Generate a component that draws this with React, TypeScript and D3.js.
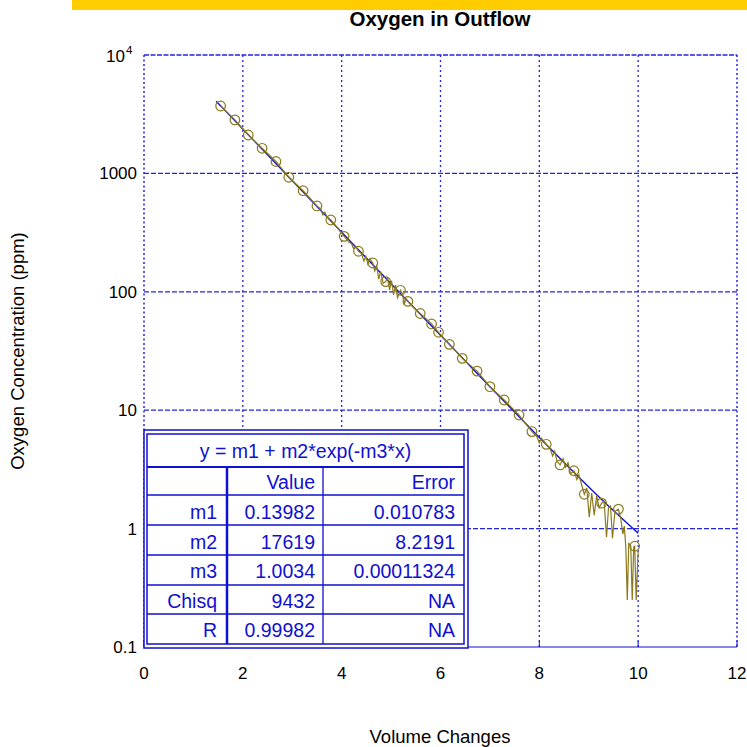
import React from 'react';
import * as d3 from "d3";

// measured points (circles)
const circleX = [1.55, 1.84, 2.11, 2.39, 2.67, 2.93, 3.22, 3.5, 3.78, 4.05, 4.34, 4.63, 4.89, 5.19, 5.34, 5.59,
    5.82, 5.96, 6.18, 6.44, 6.74, 7.0, 7.29, 7.59, 7.85, 8.14, 8.42, 8.7, 8.91, 9.26, 9.6, 9.93];
const circleY = [3710, 2830, 2110, 1630, 1260, 927, 714, 531, 404, 294, 220, 175, 122, 103, 83, 65.6,
    53.5, 45.5, 36, 27.4, 21.4, 15.8, 12.2, 9.1, 6.6, 5.15, 3.45, 3.08, 1.95, 1.64, 1.46, 0.71];

// raw trace
const traceX = [1.55, 1.84, 2.11, 2.39, 2.67, 2.93, 3.22, 3.5, 3.58, 3.62, 3.66, 3.7, 3.78, 3.92, 4.05,
    4.15, 4.2, 4.24, 4.29, 4.34, 4.4, 4.45, 4.49, 4.53, 4.57, 4.63, 4.67, 4.71, 4.75, 4.79, 4.84, 4.89,
    4.93, 4.97, 5.01, 5.05, 5.09, 5.13, 5.19, 5.23, 5.27, 5.3, 5.34, 5.45, 5.59, 5.82, 5.96, 6.18, 6.44,
    6.74, 7.0, 7.29, 7.59, 7.85, 7.95, 8.0, 8.04, 8.14, 8.22, 8.27, 8.31, 8.36, 8.42, 8.48, 8.53, 8.58,
    8.63, 8.7, 8.76, 8.8, 8.91, 8.96, 9.01, 9.06, 9.11, 9.16, 9.21, 9.26, 9.31, 9.36, 9.4, 9.44, 9.48,
    9.53, 9.6, 9.65, 9.69, 9.72, 9.75, 9.78, 9.81, 9.85, 9.88, 9.91, 9.93, 9.96, 10.0];
const traceY = [3710, 2830, 2110, 1630, 1260, 927, 714, 531, 500, 445, 470, 430, 404, 345, 294,
    262, 255, 232, 240, 220, 210, 182, 200, 172, 190, 175, 150, 165, 128, 148, 118, 122,
    130, 104, 124, 94, 114, 89, 103, 96, 79, 88, 83, 74, 65.6, 53.5, 45.5, 36, 27.4,
    21.4, 15.8, 12.2, 9.1, 6.6, 6.0, 5.3, 5.8, 5.15, 4.7, 4.1, 4.5, 3.7, 3.45, 3.9, 3.3, 3.6,
    2.9, 3.08, 2.6, 2.85, 1.95, 2.2, 1.25, 2.0, 1.3, 1.9, 1.5, 1.64, 1.7, 0.85, 1.5, 1.55, 0.83,
    1.4, 1.46, 1.2, 0.9, 1.05, 0.7, 0.25, 0.75, 0.72, 0.25, 0.7, 0.71, 0.25, 0.65];

// fitted curve
const fitX = [1.46, 2, 2.5, 3, 3.5, 4, 4.5, 5, 5.5, 6, 6.5, 7, 7.5, 8, 8.5, 9, 9.5, 10];
const fitY = [4070, 2368, 1434, 868, 526, 318, 193, 117, 70.8, 43, 26.1, 15.8, 9.64, 5.89, 3.62, 2.25, 1.42, 0.913];

const xTicks = [0, 2, 4, 6, 8, 10, 12];
const yTicks = [0.1, 1, 10, 100, 1000];
const yTickLabels = ["0.1", "1", "10", "100", "1000"];

const tableTitle = "y = m1 + m2*exp(-m3*x)";
const colHeads = ["", "Value", "Error"];
const paramNames = ["m1", "m2", "m3", "Chisq", "R"];
const paramValues = ["0.13982", "17619", "1.0034", "9432", "0.99982"];
const paramErrors = ["0.010783", "8.2191", "0.00011324", "NA", "NA"];

const BLUE = "#1010d0";
const GRID = "#2424e0";
const OLIVE = "#8a7a1c";
const FONT = "'Liberation Sans', Arial, sans-serif";

export default function App() {
    const left = 144, right = 737, top = 55, bottom = 647;
    const x = d3.scaleLinear().domain([0, 12]).range([left, right]);
    const y = d3.scaleLog().domain([0.1, 10000]).range([bottom, top]);

    const trace = d3.line<number>().x(i => x(traceX[i])).y(i => y(traceY[i]))(d3.range(traceX.length));
    const fit = d3.line<number>().x(i => x(fitX[i])).y(i => y(fitY[i])).curve(d3.curveMonotoneX)(d3.range(fitX.length));

    // table geometry
    const tL = 147, tR = 464, tT = 434, tB = 644;
    const rowLines = [467, 495, 525, 555, 585, 614];
    const c1 = 227, c2 = 323;
    const rowBase = [489, 519, 549, 578, 608, 637];
    const fs = 19.5;

    return (
        <svg width={747} height={747} style={{ position: 'absolute', left: 0, top: 0, background: '#fff' }}
            fontFamily={FONT}>
            <rect x={72} y={0} width={675} height={10} fill="#ffcc00" />
            <text x={440} y={26} textAnchor="middle" fontWeight="bold" fontSize={20.5}>Oxygen in Outflow</text>

            {/* grid */}
            {yTicks.slice(1).map(t => (
                <line key={'h' + t} x1={left} x2={right} y1={y(t)} y2={y(t)} stroke={GRID} strokeWidth={1.2} strokeDasharray="5,2" />
            ))}
            <line x1={left} x2={right} y1={top} y2={top} stroke={GRID} strokeWidth={1.5} strokeDasharray="5,1.5" />
            {xTicks.slice(1, -1).map(t => (
                <line key={'v' + t} x1={x(t)} x2={x(t)} y1={top} y2={bottom} stroke={GRID} strokeWidth={1.3} strokeDasharray="2,3" />
            ))}
            <line x1={left} x2={left} y1={top} y2={bottom} stroke={GRID} strokeWidth={1.5} strokeDasharray="2,2.5" />
            <line x1={right} x2={right} y1={top} y2={bottom} stroke={GRID} strokeWidth={1.5} strokeDasharray="2,2.5" />
            <line x1={left} x2={right} y1={bottom} y2={bottom} stroke={BLUE} strokeWidth={1} />
            {xTicks.map(t => (
                <line key={'t' + t} x1={x(t)} x2={x(t)} y1={bottom} y2={bottom - 6} stroke={BLUE} strokeWidth={1} />
            ))}

            {/* tick labels */}
            {xTicks.map(t => (
                <text key={'xl' + t} x={x(t)} y={679} textAnchor="middle" fontSize={17}>{t}</text>
            ))}
            {yTicks.map((t, i) => (
                <text key={'yl' + t} x={137} y={y(t) + 6} textAnchor="end" fontSize={17}>{yTickLabels[i]}</text>
            ))}
            <text x={125} y={y(10000) + 7} textAnchor="end" fontSize={17}>10</text>
            <text x={126} y={y(10000) - 1} fontSize={11.5}>4</text>

            <text x={440} y={743} textAnchor="middle" fontSize={18.5}>Volume Changes</text>
            <text transform="translate(24,351) rotate(-90)" textAnchor="middle" fontSize={18.5}>Oxygen Concentration (ppm)</text>

            {/* data */}
            <path d={fit || ''} fill="none" stroke={BLUE} strokeWidth={1.4} />
            <path d={trace || ''} fill="none" stroke={OLIVE} strokeWidth={1.2} />
            {circleX.map((cx, i) => (
                <circle key={'c' + i} cx={x(cx)} cy={y(circleY[i])} r={4.8} fill="none" stroke={OLIVE} strokeWidth={1.2} />
            ))}

            {/* fit table */}
            <rect x={144} y={430} width={324} height={218} fill="#fff" stroke={BLUE} strokeWidth={1.5} />
            <rect x={tL} y={tT} width={tR - tL} height={tB - tT} fill="#fff" stroke={BLUE} strokeWidth={1.5} />
            {rowLines.map((ry, i) => (
                <line key={'r' + i} x1={tL} x2={tR} y1={ry} y2={ry} stroke={BLUE} strokeWidth={i === 0 ? 2.2 : 1.3} />
            ))}
            <line x1={c1} x2={c1} y1={rowLines[0]} y2={tB} stroke={BLUE} strokeWidth={2.5} />
            <line x1={c2} x2={c2} y1={rowLines[0]} y2={tB} stroke={BLUE} strokeWidth={1.3} />
            <text x={(tL + tR) / 2} y={458} textAnchor="middle" fontSize={fs} fill={BLUE}>{tableTitle}</text>
            <text x={315} y={rowBase[0]} textAnchor="end" fontSize={fs} fill={BLUE}>{colHeads[1]}</text>
            <text x={455} y={rowBase[0]} textAnchor="end" fontSize={fs} fill={BLUE}>{colHeads[2]}</text>
            {paramNames.map((n, i) => (
                <g key={'p' + n} fontSize={fs} fill={BLUE} textAnchor="end">
                    <text x={217} y={rowBase[i + 1]}>{n}</text>
                    <text x={315} y={rowBase[i + 1]}>{paramValues[i]}</text>
                    <text x={455} y={rowBase[i + 1]}>{paramErrors[i]}</text>
                </g>
            ))}
        </svg>
    );
}
